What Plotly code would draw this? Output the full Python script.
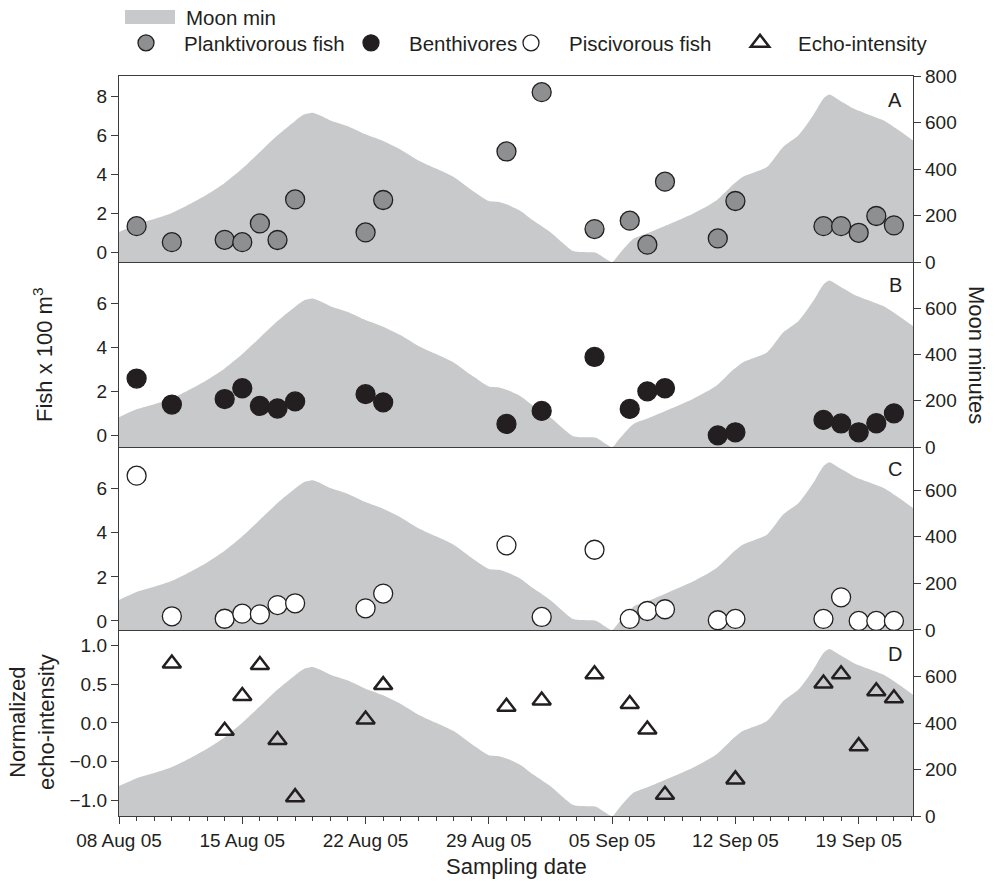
import plotly.graph_objects as go

# ---------------- data ----------------
fish_dates = ["2005-08-09", "2005-08-11", "2005-08-14", "2005-08-15", "2005-08-16",
              "2005-08-17", "2005-08-18", "2005-08-22", "2005-08-23", "2005-08-30",
              "2005-09-01", "2005-09-04", "2005-09-06", "2005-09-07", "2005-09-08",
              "2005-09-11", "2005-09-12", "2005-09-17", "2005-09-18", "2005-09-19",
              "2005-09-20", "2005-09-21"]
planktivorous = [1.33, 0.51, 0.63, 0.51, 1.47, 0.62, 2.70, 1.01, 2.67, 5.16, 8.20,
                 1.18, 1.61, 0.38, 3.61, 0.70, 2.62, 1.33, 1.33, 0.99, 1.85, 1.37]
benthivores = [2.59, 1.41, 1.66, 2.15, 1.35, 1.23, 1.55, 1.88, 1.51, 0.53, 1.12,
               3.57, 1.21, 2.01, 2.15, 0.01, 0.15, 0.71, 0.55, 0.15, 0.56, 1.01]
piscivorous = [6.59, 0.21, 0.10, 0.33, 0.30, 0.72, 0.80, 0.57, 1.24, 3.43, 0.18,
               3.23, 0.09, 0.45, 0.53, 0.03, 0.09, 0.09, 1.07, 0.00, 0.00, 0.00]

echo_dates = ["2005-08-11", "2005-08-14", "2005-08-15", "2005-08-16", "2005-08-17",
              "2005-08-18", "2005-08-22", "2005-08-23", "2005-08-30", "2005-09-01",
              "2005-09-04", "2005-09-06", "2005-09-07", "2005-09-08", "2005-09-12",
              "2005-09-17", "2005-09-18", "2005-09-19", "2005-09-20", "2005-09-21"]
echo_intensity = [0.77, -0.10, 0.35, 0.75, -0.22, -0.96, 0.045, 0.49, 0.21, 0.29,
                  0.63, 0.245, -0.085, -0.93, -0.73, 0.51, 0.63, -0.30, 0.41, 0.32]

moon_dates = ["2005-08-08 00:00", "2005-08-09 00:00", "2005-08-10 00:00", "2005-08-11 00:00",
              "2005-08-12 00:00", "2005-08-13 00:00", "2005-08-14 00:00", "2005-08-15 00:00",
              "2005-08-16 00:00", "2005-08-17 00:00", "2005-08-18 00:00", "2005-08-18 12:00",
              "2005-08-19 00:00", "2005-08-19 12:00", "2005-08-20 00:00", "2005-08-21 00:00",
              "2005-08-22 00:00", "2005-08-23 00:00", "2005-08-24 00:00", "2005-08-25 00:00",
              "2005-08-26 00:00", "2005-08-27 00:00", "2005-08-28 00:00", "2005-08-29 00:00",
              "2005-08-29 14:00", "2005-08-30 00:00", "2005-08-30 19:00", "2005-08-31 12:00",
              "2005-09-01 12:00", "2005-09-02 19:00", "2005-09-03 12:00", "2005-09-04 02:00",
              "2005-09-05 00:00", "2005-09-05 10:00", "2005-09-06 05:00", "2005-09-07 02:00",
              "2005-09-08 02:00", "2005-09-09 14:00", "2005-09-10 22:00", "2005-09-11 22:00",
              "2005-09-12 10:00", "2005-09-13 19:00", "2005-09-14 17:00", "2005-09-15 14:00",
              "2005-09-16 10:00", "2005-09-17 00:00", "2005-09-17 08:00", "2005-09-17 22:00",
              "2005-09-18 17:00", "2005-09-19 10:00", "2005-09-20 10:00", "2005-09-21 07:00",
              "2005-09-22 02:00"]
moon_min = [129, 163, 185, 211, 248, 290, 340, 402, 473, 545, 607, 634,
            642, 628, 609, 584, 549, 520, 483, 437, 402, 366, 311, 262,
            258, 248, 220, 180, 128, 47, 42, 40, 0, 36, 100, 126,
            158, 208, 265, 337, 366, 409, 495, 545, 631, 703, 720, 695,
            660, 638, 609, 566, 523]

panel_labels = ["A", "B", "C", "D"]
fish_ranges = [[-0.51, 9.03], [-0.52, 7.88], [-0.41, 7.89], [-1.204, 1.204]]
moon_ranges = [[0, 800], [0, 800], [0, 785], [0, 802]]
left_tickvals = [[0, 2, 4, 6, 8], [0, 2, 4, 6], [0, 2, 4, 6], [1.0, 0.5, 0.0, -0.5, -1.0]]
left_ticktext = [["0", "2", "4", "6", "8"], ["0", "2", "4", "6"], ["0", "2", "4", "6"],
                 ["1.0", "0.5", "0.0", "\u22120.0", "\u22121.0"]]
right_tickvals = [[0, 200, 400, 600, 800], [0, 200, 400, 600], [0, 200, 400, 600], [0, 200, 400, 600]]

# ---------------- style ----------------
FONT = "Liberation Sans, Arial, sans-serif"
AX = "#3c3c3c"
MOON_FILL = "#c8c9cb"
GRAY = "#8e8f91"
BLACK = "#231f20"
TICKFONT = 19
LEGFONT = 20.5
TITLEFONT = 22

fig = go.Figure()

# panel domains (top to bottom)
domains = [[0.7486, 1.0], [0.4986, 0.7486], [0.2514, 0.4986], [0.0, 0.2514]]

fish_series = [
    (planktivorous, "Planktivorous fish", "circle", GRAY, 1.3, 19),
    (benthivores, "Benthivores", "circle", BLACK, 1.3, 19),
    (piscivorous, "Piscivorous fish", "circle", "white", 1.3, 19),
]

for i in range(4):
    xa = "x" if i == 0 else f"x{i+1}"
    ym = "y" if i == 0 else f"y{2*i+1}"
    yf = f"y{2*i+2}"
    fig.add_trace(go.Scatter(
        x=moon_dates, y=moon_min, xaxis=xa, yaxis=ym, mode="lines",
        line=dict(width=0, color=MOON_FILL, shape="spline", smoothing=0.6),
        fill="tozeroy", fillcolor=MOON_FILL, showlegend=False, hoverinfo="skip",
        name="Moon min"))
    if i < 3:
        vals, name, sym, col, lw, sz = fish_series[i]
        fig.add_trace(go.Scatter(
            x=fish_dates, y=vals, xaxis=xa, yaxis=yf, mode="markers", name=name,
            marker=dict(symbol=sym, size=sz, color=col, line=dict(color=BLACK, width=lw)),
            legend=f"legend{i+2}", showlegend=True))
    else:
        fig.add_trace(go.Scatter(
            x=echo_dates, y=echo_intensity, xaxis=xa, yaxis=yf, mode="markers",
            name="Echo-intensity",
            marker=dict(symbol="triangle-up-open", size=16, color=BLACK,
                        line=dict(color=BLACK, width=2.5)),
            legend="legend5", showlegend=True))

layout = dict(
    width=995, height=881,
    margin=dict(l=119, r=82, t=76, b=65, autoexpand=False),
    paper_bgcolor="white", plot_bgcolor="white",
    font=dict(family=FONT, size=TICKFONT, color="#231f20"),
    showlegend=True,
)

xrange = ["2005-08-08 00:00", "2005-09-22 02:00"]
for i in range(4):
    xkey = "xaxis" if i == 0 else f"xaxis{i+1}"
    ym = "y" if i == 0 else f"y{2*i+1}"
    ymkey = "yaxis" if i == 0 else f"yaxis{2*i+1}"
    yfkey = f"yaxis{2*i+2}"
    xa = dict(domain=[0, 1], anchor=ym, type="date", range=xrange, showline=True,
              mirror=(i == 0), linecolor=AX, linewidth=1.4, showgrid=False, zeroline=False)
    if i < 3:
        xa.update(showticklabels=False, ticks="")
    else:
        xa.update(ticks="outside", ticklen=7, tickwidth=1.3, tickcolor=AX,
                  tick0="2005-08-08", dtick=7 * 86400000, tickformat="%d %b %y",
                  tickfont=dict(size=TICKFONT),
                  minor=dict(dtick=86400000, tick0="2005-08-08", ticks="outside",
                             ticklen=4, tickwidth=1, tickcolor=AX, showgrid=False))
    layout[xkey] = xa
    layout[ymkey] = dict(domain=domains[i], anchor=("x" if i == 0 else f"x{i+1}"),
                         side="right", range=moon_ranges[i], tickvals=right_tickvals[i],
                         showline=True, linecolor=AX, linewidth=1.4, ticks="outside",
                         ticklen=7, tickwidth=1.3, tickcolor=AX, showgrid=False,
                         zeroline=False, tickfont=dict(size=TICKFONT))
    layout[yfkey] = dict(overlaying=ym, anchor=("x" if i == 0 else f"x{i+1}"),
                         side="left", range=fish_ranges[i], tickvals=left_tickvals[i],
                         ticktext=left_ticktext[i], showline=True, linecolor=AX,
                         linewidth=1.4, ticks="outside", ticklen=7, tickwidth=1.3,
                         tickcolor=AX, showgrid=False, zeroline=False,
                         tickfont=dict(size=TICKFONT))

leg_y = (816 - 43) / 740
leg_lefts = [108, 333, 493, 722]
for k, left in enumerate(leg_lefts):
    key = f"legend{k+2}"
    layout[key] = dict(x=(left - 119) / 794, xanchor="left", y=leg_y, yanchor="middle",
                       orientation="h", itemwidth=66, bgcolor="rgba(0,0,0,0)",
                       borderwidth=0, font=dict(size=LEGFONT, family=FONT))

fig.update_layout(**layout)

# Moon min legend key
fig.add_shape(type="rect", xref="paper", yref="paper",
              x0=(125 - 119) / 794, x1=(175 - 119) / 794,
              y0=(816 - 24) / 740, y1=(816 - 10) / 740,
              fillcolor=MOON_FILL, line=dict(width=0))
fig.add_annotation(text="Moon min", xref="paper", yref="paper",
                   x=(184 - 119) / 794, y=(816 - 17) / 740, xanchor="left",
                   yanchor="middle", showarrow=False, font=dict(size=LEGFONT))

# panel letters
letter_y = [100, 285, 469, 654]
for lab, yy in zip(panel_labels, letter_y):
    fig.add_annotation(text=lab, xref="paper", yref="paper", x=(895 - 119) / 794,
                       y=(816 - yy) / 740, xanchor="center", yanchor="middle",
                       showarrow=False, font=dict(size=20))

# axis titles
fig.add_annotation(text="Fish x 100 m<sup>3</sup>", xref="paper", yref="paper",
                   x=(43 - 119) / 794, y=(816 - 355) / 740, textangle=-90,
                   showarrow=False, font=dict(size=TITLEFONT), xanchor="center", yanchor="middle")
fig.add_annotation(text="Normalized<br>echo-intensity", xref="paper", yref="paper",
                   x=(32 - 119) / 794, y=(816 - 722) / 740, textangle=-90,
                   showarrow=False, font=dict(size=TITLEFONT), xanchor="center", yanchor="middle")
fig.add_annotation(text="Moon minutes", xref="paper", yref="paper",
                   x=(977 - 119) / 794, y=(816 - 355) / 740, textangle=90,
                   showarrow=False, font=dict(size=TITLEFONT), xanchor="center", yanchor="middle")
fig.add_annotation(text="Sampling date", xref="paper", yref="paper",
                   x=0.5, y=(816 - 866) / 740, showarrow=False, font=dict(size=TITLEFONT),
                   xanchor="center", yanchor="middle")

fig.write_html("out.html")
